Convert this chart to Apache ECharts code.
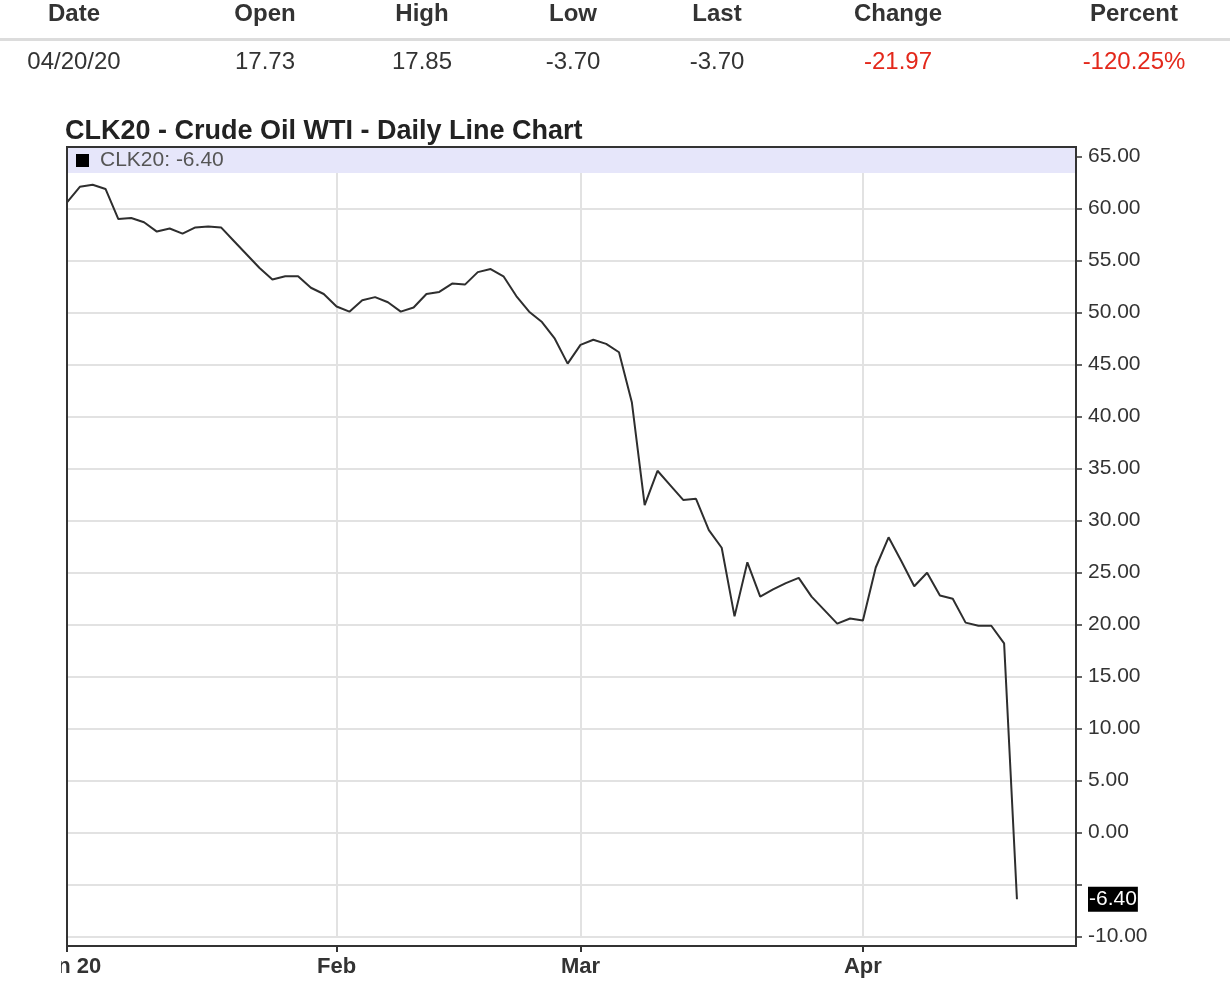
<!DOCTYPE html>
<html>
<head>
<meta charset="utf-8">
<script src="https://cdn.jsdelivr.net/npm/echarts@6/dist/echarts.min.js"></script>
<style>
html,body{margin:0;padding:0;background:#fff;}
#chart{width:1230px;height:982px;}
</style>
</head>
<body>
<div id="chart"></div>
<script>
// ---- data ----
const tableHeaders = ['Date', 'Open', 'High', 'Low', 'Last', 'Change', 'Percent'];
const tableValues = ['04/20/20', '17.73', '17.85', '-3.70', '-3.70', '-21.97', '-120.25%'];
const tableRed = [false, false, false, false, false, true, true];

const seriesName = 'CLK20';
const chartTitle = 'CLK20 - Crude Oil WTI - Daily Line Chart';

const dates = [
  '2020-01-02','2020-01-03','2020-01-06','2020-01-07','2020-01-08','2020-01-09','2020-01-10',
  '2020-01-13','2020-01-14','2020-01-15','2020-01-16','2020-01-17','2020-01-21','2020-01-22',
  '2020-01-23','2020-01-24','2020-01-27','2020-01-28','2020-01-29','2020-01-30','2020-01-31',
  '2020-02-03','2020-02-04','2020-02-05','2020-02-06','2020-02-07','2020-02-10','2020-02-11',
  '2020-02-12','2020-02-13','2020-02-14','2020-02-18','2020-02-19','2020-02-20','2020-02-21',
  '2020-02-24','2020-02-25','2020-02-26','2020-02-27','2020-02-28',
  '2020-03-02','2020-03-03','2020-03-04','2020-03-05','2020-03-06','2020-03-09','2020-03-10',
  '2020-03-11','2020-03-12','2020-03-13','2020-03-16','2020-03-17','2020-03-18','2020-03-19',
  '2020-03-20','2020-03-23','2020-03-24','2020-03-25','2020-03-26','2020-03-27','2020-03-30',
  '2020-03-31',
  '2020-04-01','2020-04-02','2020-04-03','2020-04-06','2020-04-07','2020-04-08','2020-04-09',
  '2020-04-13','2020-04-14','2020-04-15','2020-04-16','2020-04-17','2020-04-20'
];
const closes = [
  60.6, 62.1, 62.3, 61.9, 59.0, 59.1, 58.7,
  57.8, 58.1, 57.6, 58.2, 58.3, 58.2, 56.9,
  55.6, 54.3, 53.2, 53.5, 53.5, 52.4, 51.8,
  50.6, 50.1, 51.2, 51.5, 51.0, 50.1, 50.5,
  51.8, 52.0, 52.8, 52.7, 53.9, 54.2, 53.5,
  51.6, 50.1, 49.1, 47.5, 45.1,
  46.9, 47.4, 47.0, 46.2, 41.4, 31.5, 34.8,
  33.4, 32.0, 32.1, 29.1, 27.4, 20.8, 26.0,
  22.7, 23.4, 24.0, 24.5, 22.7, 21.4, 20.1,
  20.6,
  20.4, 25.5, 28.4, 26.1, 23.7, 25.0, 22.8,
  22.5, 20.2, 19.9, 19.9, 18.2, -6.4
];
const xTickDates = ['2020-01-02', '2020-02-03', '2020-03-02', '2020-04-01'];
const xTickLabels = ['Jan 20', 'Feb', 'Mar', 'Apr'];
const yMin = -10, yMax = 65, yStep = 5;
const hiddenYLabels = [-5];

// ---- layout ----
const colCenters = [74, 265, 422, 573, 717, 898, 1134];
const xAxisMax = 78.6;

const tickIdx = xTickDates.map(d => dates.indexOf(d));
const tickLabelMap = {};
tickIdx.forEach((ix, k) => { tickLabelMap[ix] = xTickLabels[k]; });
const lastVal = closes[closes.length - 1];
const lastLabel = lastVal.toFixed(2);

const FONT = 'Liberation Sans, Arial, sans-serif';
const graphics = [];
tableHeaders.forEach((h, k) => {
  graphics.push({
    type: 'text', x: colCenters[k], y: 14, z: 10,
    style: { text: h, fontFamily: FONT, fontSize: 24, fontWeight: 'bold',
      fill: '#333', align: 'center', verticalAlign: 'middle' }
  });
  graphics.push({
    type: 'text', x: colCenters[k], y: 62, z: 10,
    style: { text: tableValues[k], fontFamily: FONT, fontSize: 24,
      fill: tableRed[k] ? '#e3281b' : '#333', align: 'center', verticalAlign: 'middle' }
  });
});
graphics.push({ type: 'rect', shape: { x: 0, y: 38, width: 1230, height: 3 }, style: { fill: '#dcdcdc' }, z: 10 });
graphics.push({
  type: 'text', x: 65, y: 132, z: 10,
  style: { text: chartTitle, fontFamily: FONT, fontSize: 27, fontWeight: 'bold',
    fill: '#222', align: 'left', verticalAlign: 'middle' }
});
// legend band
graphics.push({ type: 'rect', shape: { x: 68, y: 148, width: 1007, height: 25 }, style: { fill: '#e6e6fa' }, z: 3 });
// frame
graphics.push({ type: 'rect', shape: { x: 67, y: 147, width: 1009, height: 799 },
  style: { fill: 'none', stroke: '#333', lineWidth: 2 }, z: 20 });
// cover clipped part of first x label
graphics.push({ type: 'rect', shape: { x: 0, y: 950, width: 61, height: 32 }, style: { fill: '#fff' }, z: 20 });

const chart = echarts.init(document.getElementById('chart'), null, { renderer: 'canvas' });
chart.setOption({
  animation: false,
  backgroundColor: '#fff',
  textStyle: { fontFamily: FONT },
  grid: { left: 67, right: 154, top: 156.7, bottom: 982 - 936.7, containLabel: false },
  legend: {
    data: [seriesName], left: 76, top: 150, padding: 0,
    icon: 'rect', itemWidth: 13, itemHeight: 13, itemGap: 6,
    itemStyle: { color: '#000' },
    selectedMode: false,
    formatter: n => n + ': ' + lastLabel,
    textStyle: { fontSize: 21, color: '#555', padding: [0, 0, 0, 6] }
  },
  xAxis: {
    type: 'value', min: 0, max: xAxisMax, offset: 9.3,
    axisLine: { show: false, onZero: false },
    axisTick: { show: true, customValues: tickIdx, length: 6, lineStyle: { color: '#333', width: 2 } },
    axisLabel: { customValues: tickIdx, formatter: v => tickLabelMap[v] || '', margin: 10,
      fontSize: 22, fontWeight: 'bold', color: '#333' },
    splitLine: { show: false }
  },
  yAxis: {
    type: 'value', position: 'right', min: yMin, max: yMax, interval: yStep,
    axisLine: { show: false, onZero: false },
    axisTick: { show: true, length: 6, lineStyle: { color: '#333', width: 1.5 } },
    axisLabel: { margin: 12, fontSize: 21, color: '#333',
      formatter: v => hiddenYLabels.indexOf(v) >= 0 ? '' : v.toFixed(2) },
    splitLine: { show: true, lineStyle: { color: '#e2e2e2', width: 2 } }
  },
  series: [{
    name: seriesName,
    type: 'line',
    data: closes.map((v, i) => [i, v]),
    showSymbol: false, symbol: 'none',
    itemStyle: { color: '#000' },
    lineStyle: { color: '#2e2e2e', width: 2 },
    z: 5,
    markLine: {
      silent: true, symbol: 'none', animation: false, z: 1,
      data: tickIdx.slice(1).map(ix => ({ xAxis: ix, lineStyle: { color: '#e2e2e2', width: 2, type: 'solid' }, label: { show: false } }))
        .concat([{ yAxis: lastVal, lineStyle: { color: 'rgba(0,0,0,0)', width: 1, type: 'solid' },
          label: { show: true, position: 'end', distance: 12, formatter: lastLabel, color: '#fff',
            backgroundColor: '#000', fontSize: 21, padding: [2, 1, 2, 1] } }])
    }
  }],
  graphic: graphics
});
</script>
</body>
</html>
